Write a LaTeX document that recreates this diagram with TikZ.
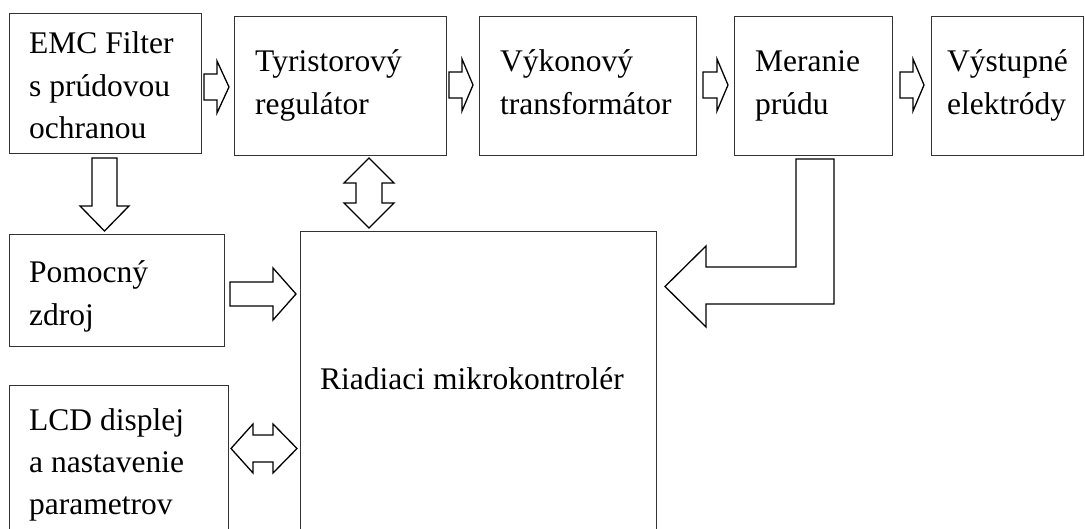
\documentclass[tikz,border=0pt]{standalone}
\usepackage{fontspec}
\setmainfont{Liberation Serif}
\begin{document}
\begin{tikzpicture}[x=1pt,y=-1pt,
  box/.style={draw=black!80, line width=1pt, rectangle, anchor=north west, inner sep=0pt},
  lbl/.style={anchor=base west, inner sep=0pt, font=\fontsize{31.5}{42.5}\selectfont},
  blockarrow/.style={draw=black, line width=1.3pt, line join=miter, fill=white}]
\useasboundingbox (0,0) rectangle (1085,529);
\clip (0,0) rectangle (1085,529);
% boxes
\node[box, minimum width=192pt, minimum height=140pt] (emc) at (9,13) {};
\node[box, minimum width=212pt, minimum height=139pt] (tyr) at (234,16) {};
\node[box, minimum width=217pt, minimum height=139pt] (vyk) at (479,16) {};
\node[box, minimum width=158pt, minimum height=139pt] (mer) at (734,16) {};
\node[box, minimum width=152pt, minimum height=139pt] (vys) at (931,16) {};
\node[box, minimum width=215pt, minimum height=112pt] (pom) at (9,234) {};
\node[box, minimum width=356pt, minimum height=320pt] (mcu) at (300,231) {};
\node[box, minimum width=219pt, minimum height=160pt] (lcd) at (9,385) {};
% texts
\node[lbl] (emct) at (29,54) {\begin{tabular}[t]{@{}l@{}}EMC Filter\\ s prúdovou\\ ochranou\end{tabular}};
\node[lbl] (tyrt) at (255,72) {\begin{tabular}[t]{@{}l@{}}Tyristorový\\ regulátor\end{tabular}};
\node[lbl] (vykt) at (500,72) {\begin{tabular}[t]{@{}l@{}}Výkonový\\ transformátor\end{tabular}};
\node[lbl] (mert) at (755,72) {\begin{tabular}[t]{@{}l@{}}Meranie\\ prúdu\end{tabular}};
\node[lbl] (vyst) at (947,72) {\begin{tabular}[t]{@{}l@{}}Výstupné\\ elektródy\end{tabular}};
\node[lbl] (pomt) at (29,283) {\begin{tabular}[t]{@{}l@{}}Pomocný\\ zdroj\end{tabular}};
\node[lbl] (lcdt) at (29,430) {\begin{tabular}[t]{@{}l@{}}LCD displej\\ a nastavenie\\ parametrov\end{tabular}};
\node[lbl] (mcut) at (320,390) {Riadiaci mikrokontrolér};
% small right arrows between top boxes
\draw[blockarrow] (204,74)--(217,74)--(217,61)--(229,87)--(217,113)--(217,100)--(204,100)--cycle;
\draw[blockarrow] (449,72)--(462,72)--(462,59)--(473,85)--(462,111)--(462,98)--(449,98)--cycle;
\draw[blockarrow] (703,72)--(717,72)--(717,59)--(728,85)--(717,111)--(717,98)--(703,98)--cycle;
\draw[blockarrow] (900,72)--(913,72)--(913,59)--(924,85)--(913,111)--(913,98)--(900,98)--cycle;
% EMC -> Pomocny
\draw[blockarrow] (92,158)--(117,158)--(117,206)--(129,206)--(104.5,231)--(80,206)--(92,206)--cycle;
% Pomocny -> MCU
\draw[blockarrow] (230,282)--(273,282)--(273,268)--(296,294)--(273,320)--(273,306)--(230,306)--cycle;
% Tyristor <-> MCU
\draw[blockarrow] (369,158)--(394,183)--(382,183)--(382,203)--(394,203)--(369,228)--(344,203)--(356,203)--(356,183)--(344,183)--cycle;
% LCD <-> MCU
\draw[blockarrow] (231,448.5)--(253,424)--(253,435)--(273,435)--(273,424)--(297,448.5)--(273,473)--(273,462)--(253,462)--(253,473)--cycle;
% Meranie -> MCU (L-shaped)
\draw[blockarrow] (796,159)--(834,159)--(834,304)--(706,304)--(706,327)--(665,286.5)--(706,246)--(706,267)--(796,267)--cycle;
\end{tikzpicture}
\end{document}
